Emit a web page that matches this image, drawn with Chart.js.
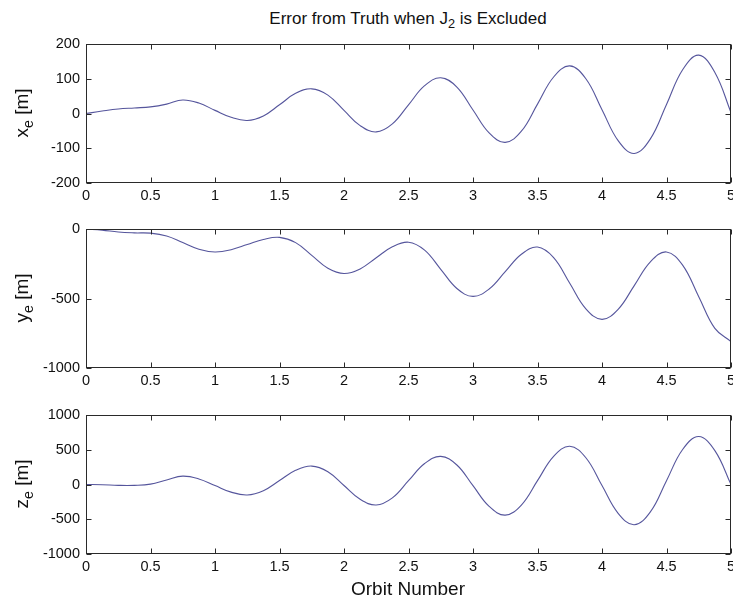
<!DOCTYPE html>
<html lang="en">
<head>
    <meta charset="UTF-8">
    <title>Error from Truth when J2 is Excluded</title>
    <script src="https://cdn.jsdelivr.net/npm/chart.js"></script>
    <style>
        body {
            margin: 0;
            background: #fff;
            font-family: Arial, 'Liberation Sans', sans-serif;
            color: #111;
        }
        #fig {
            position: relative;
            width: 733px;
            height: 600px;
            overflow: hidden;
        }
        .panel {
            position: absolute;
            left: 0;
            width: 733px;
            height: 175px;
        }
        .title {
            position: absolute;
            left: 408px;
            top: 9px;
            transform: translateX(-50%);
            font-size: 17px;
            line-height: 20px;
            white-space: nowrap;
        }
        .ylab {
            position: absolute;
            left: 22px;
            font-size: 19px;
            white-space: nowrap;
            transform: translate(-50%, -50%) rotate(-90deg);
        }
        .xlab {
            position: absolute;
            left: 408px;
            top: 578px;
            transform: translateX(-50%);
            font-size: 19px;
            line-height: 22px;
            white-space: nowrap;
        }
        sub {
            font-size: 0.75em;
            vertical-align: -0.35em;
            line-height: 0;
        }
    </style>
</head>
<body>
    <div id="fig">
        <div class="title">Error from Truth when J<sub>2</sub> is Excluded</div>
        <div class="panel" style="top:34px"><canvas id="cx"></canvas></div>
        <div class="panel" style="top:219px"><canvas id="cy"></canvas></div>
        <div class="panel" style="top:405px"><canvas id="cz"></canvas></div>
        <div class="ylab" style="top:113px">x<sub>e</sub> [m]</div>
        <div class="ylab" style="top:298px">y<sub>e</sub> [m]</div>
        <div class="ylab" style="top:484px">z<sub>e</sub> [m]</div>
        <div class="xlab">Orbit Number</div>
    </div>

    <script>
        // orbit number samples (every 1/8 orbit)
        const orbit = [0, 0.125, 0.25, 0.375, 0.5, 0.625, 0.75, 0.875, 1, 1.125, 1.25, 1.375, 1.5, 1.625, 1.75, 1.875,
            2, 2.125, 2.25, 2.375, 2.5, 2.625, 2.75, 2.875, 3, 3.125, 3.25, 3.375, 3.5, 3.625, 3.75, 3.875,
            4, 4.125, 4.25, 4.375, 4.5, 4.625, 4.75, 4.875, 5];

        // errors in metres
        const xErr = [0, 7, 13, 16, 19, 27, 39, 30, 9, -11, -20, -7, 25, 58, 71, 53,
            9, -35, -53, -30, 25, 80, 103, 76, 10, -56, -83, -51, 27, 105, 137, 100,
            11, -78, -115, -73, 26, 126, 168, 118, 3];
        const yErr = [0, -8, -22, -28, -30, -50, -97, -145, -165, -149, -112, -75, -60, -98, -190, -282,
            -320, -287, -207, -128, -95, -152, -290, -428, -485, -432, -307, -182, -130, -206, -390, -574,
            -650, -578, -407, -236, -165, -260, -487, -715, -810];
        const zErr = [0, -3, -12, -12, 5, 65, 120, 80, -15, -110, -150, -89, 57, 204, 265, 183,
            -15, -213, -295, -192, 55, 302, 405, 281, -17, -315, -440, -295, 55, 405, 550, 385,
            -15, -415, -580, -394, 55, 504, 690, 488, 0];

        const xTickStep = 0.5;
        const yRanges = {
            cx: { min: -200, max: 200, step: 100 },
            cy: { min: -1000, max: 0, step: 500 },
            cz: { min: -1000, max: 1000, step: 500 }
        };

        Chart.defaults.font.family = "Arial, 'Liberation Sans', sans-serif";
        Chart.defaults.font.size = 14.5;
        Chart.defaults.color = '#111';

        // matlab style box with inward ticks on all four sides
        const boxTicks = {
            id: 'boxTicks',
            afterDraw(chart) {
                const { ctx, chartArea: a, scales } = chart;
                const L = Math.round(a.left) + 0.5, R = Math.round(a.right) - 0.5;
                const T = Math.round(a.top) + 0.5, B = Math.round(a.bottom) - 0.5;
                ctx.save();
                ctx.strokeStyle = '#2a2a2a';
                ctx.lineWidth = 1;
                ctx.beginPath();
                scales.x.ticks.forEach(t => {
                    const px = Math.round(scales.x.getPixelForValue(t.value)) + 0.5;
                    ctx.moveTo(px, T); ctx.lineTo(px, T + 5);
                    ctx.moveTo(px, B); ctx.lineTo(px, B - 5);
                });
                scales.y.ticks.forEach(t => {
                    const py = Math.round(scales.y.getPixelForValue(t.value)) + 0.5;
                    ctx.moveTo(L, py); ctx.lineTo(L + 5, py);
                    ctx.moveTo(R, py); ctx.lineTo(R - 5, py);
                });
                ctx.stroke();
                ctx.strokeRect(L, T, R - L, B - T);
                ctx.restore();
            }
        };

        const plain = v => String(v);

        function makePanel(id, values) {
            const r = yRanges[id];
            const pts = orbit.map((o, i) => ({ x: o, y: values[i] }));
            new Chart(document.getElementById(id), {
                type: 'line',
                data: {
                    datasets: [{
                        data: pts,
                        borderColor: '#55559c',
                        borderWidth: 1.1,
                        pointRadius: 0,
                        fill: false,
                        tension: 0.4
                    }]
                },
                options: {
                    responsive: true,
                    maintainAspectRatio: false,
                    animation: false,
                    layout: { padding: { top: 10, right: 2, left: 0, bottom: 0 } },
                    plugins: { legend: { display: false }, tooltip: { enabled: false } },
                    scales: {
                        x: {
                            type: 'linear',
                            min: 0,
                            max: 5,
                            grid: { display: false, drawTicks: false },
                            border: { display: false },
                            ticks: { stepSize: xTickStep, padding: 4, maxRotation: 0, autoSkip: false, callback: plain },
                            afterFit(s) { s.height = 26; s.paddingLeft = 0; s.paddingRight = 0; }
                        },
                        y: {
                            min: r.min,
                            max: r.max,
                            grid: { display: false, drawTicks: false },
                            border: { display: false },
                            ticks: { stepSize: r.step, padding: 6, callback: plain },
                            afterFit(s) { s.width = 86; s.paddingTop = 0; s.paddingBottom = 0; }
                        }
                    }
                },
                plugins: [boxTicks]
            });
        }

        makePanel('cx', xErr);
        makePanel('cy', yErr);
        makePanel('cz', zErr);
    </script>
</body>
</html>
